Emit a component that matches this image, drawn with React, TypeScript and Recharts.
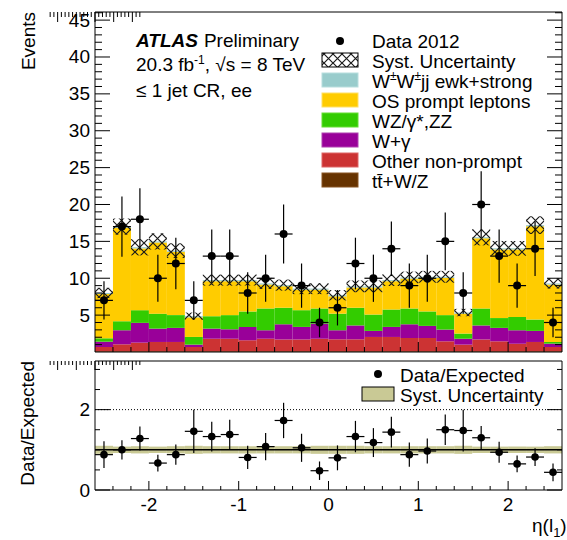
import { Bar, ComposedChart, ErrorBar, ReferenceLine, Scatter, XAxis, YAxis } from "recharts";

// bin centres in eta(l1), bin width 0.2
const binCenters = [
  -2.5, -2.3, -2.1, -1.9, -1.7, -1.5, -1.3, -1.1, -0.9, -0.7, -0.5, -0.3, -0.1,
  0.1, 0.3, 0.5, 0.7, 0.9, 1.1, 1.3, 1.5, 1.7, 1.9, 2.1, 2.3, 2.5,
];
const binHalfWidth = 0.1;

// stacked backgrounds (events per bin), bottom to top
const ttbarWZ = [0.1, 0.1, 0.1, 0.1, 0.1, 0.1, 0.1, 0.1, 0.1, 0.1, 0.1, 0.1, 0.1, 0.1, 0.1, 0.1, 0.1, 0.1, 0.1, 0.1, 0.1, 0.1, 0.1, 0.1, 0.1, 0.1];
const otherNonPrompt = [0.58, 0.94, 1.17, 1.26, 1.26, 0.58, 1.7, 1.7, 1.5, 1.7, 1.6, 1.6, 1.7, 1.62, 1.62, 1.94, 1.94, 1.8, 1.8, 1.35, 0.9, 1.6, 1.35, 1.03, 1.26, 0.58];
const wGamma = [0.72, 1.91, 2.68, 1.81, 1.91, 0.32, 1.37, 1.28, 1.8, 1.15, 2.06, 1.7, 2.05, 1.23, 1.88, 0.82, 1.36, 1.86, 1.64, 1.59, 0.8, 1.9, 1.82, 1.82, 1.5, 0.45];
const wzZZ = [0.46, 1.22, 1.72, 2.03, 1.73, 1.04, 1.68, 1.92, 2.1, 2.95, 2.24, 2.27, 2.05, 2.25, 2.4, 2.22, 2.36, 2.14, 1.96, 1.96, 0.7, 2.3, 1.33, 1.81, 1.54, 0.23];
const osPrompt = [6.0, 12.68, 8.38, 9.65, 8.59, 2.66, 4.75, 4.6, 4.1, 3.25, 2.92, 2.78, 2.55, 2.35, 2.75, 3.67, 3.84, 4.05, 4.55, 5.05, 2.7, 9.51, 9.31, 9.15, 12.65, 7.79];
const wwjj = [0.15, 0.15, 0.15, 0.15, 0.15, 0.15, 0.15, 0.15, 0.15, 0.15, 0.15, 0.15, 0.15, 0.15, 0.15, 0.15, 0.15, 0.15, 0.15, 0.15, 0.15, 0.15, 0.15, 0.15, 0.15, 0.15];
const systErr = [0.7, 1.1, 1.1, 1.1, 1.0, 0.5, 0.75, 0.75, 0.75, 0.75, 0.75, 0.75, 0.75, 0.7, 0.8, 0.8, 0.8, 0.8, 0.8, 0.8, 0.5, 1.1, 1.0, 1.0, 1.2, 0.7];

// data
const dataEvents = [7, 17, 18, 10, 12, 7, 13, 13, 8, 10, 16, 9, 4, 6, 12, 10, 14, 9, 10, 15, 8, 20, 13, 9, 14, 4];
const dataErr = [2.6, 4.1, 4.2, 3.2, 3.5, 2.6, 3.6, 3.6, 2.8, 3.2, 4.0, 3.0, 2.0, 2.4, 3.5, 3.2, 3.7, 3.0, 3.2, 3.9, 2.8, 4.5, 3.6, 3.0, 3.7, 2.0];

// ratio panel
const ratio = [0.88, 1.0, 1.28, 0.67, 0.88, 1.46, 1.33, 1.38, 0.81, 1.08, 1.73, 1.05, 0.48, 0.8, 1.33, 1.18, 1.44, 0.88, 0.97, 1.5, 1.48, 1.3, 0.94, 0.65, 0.82, 0.44];
const ratioErr = [0.33, 0.24, 0.3, 0.21, 0.25, 0.54, 0.37, 0.37, 0.29, 0.34, 0.44, 0.35, 0.23, 0.31, 0.39, 0.36, 0.38, 0.3, 0.31, 0.38, 0.52, 0.29, 0.26, 0.21, 0.22, 0.22];
const ratioSyst = [0.1, 0.08, 0.09, 0.08, 0.09, 0.1, 0.09, 0.09, 0.09, 0.09, 0.09, 0.09, 0.1, 0.1, 0.1, 0.09, 0.09, 0.09, 0.09, 0.09, 0.1, 0.08, 0.08, 0.08, 0.08, 0.09];

// ticks
const etaMajor = [-2, -1, 0, 1, 2];
const etaTicks = [
  -2.4, -2.2, -2, -1.8, -1.6, -1.4, -1.2, -1, -0.8, -0.6, -0.4, -0.2, 0,
  0.2, 0.4, 0.6, 0.8, 1, 1.2, 1.4, 1.6, 1.8, 2, 2.2, 2.4,
];
const eventsMajor = [5, 10, 15, 20, 25, 30, 35, 40, 45];
const eventsTicks = Array.from({ length: 46 }, (_, i) => i + 1);
const ratioMajor = [0, 2];
const ratioTicks = [0, 0.5, 1, 1.5, 2, 2.5, 3];

const FONT = "'Liberation Sans', Arial, Helvetica, sans-serif";

const topRows = binCenters.map((eta, i) => {
  const total = ttbarWZ[i] + otherNonPrompt[i] + wGamma[i] + wzZZ[i] + osPrompt[i] + wwjj[i];
  return {
    bin: i,
    eta,
    ttbar: ttbarWZ[i],
    other: otherNonPrompt[i],
    wgam: wGamma[i],
    wz: wzZZ[i],
    os: osPrompt[i],
    ww: wwjj[i],
    syst: [total - systErr[i], total + systErr[i]],
    data: dataEvents[i],
    ey: dataErr[i],
    ex: binHalfWidth,
  };
});

const ratioRows = binCenters.map((eta, i) => ({
  bin: i,
  eta,
  ratio: ratio[i],
  ey: ratioErr[i],
  ex: binHalfWidth,
  band: [1 - ratioSyst[i], 1 + ratioSyst[i]],
}));

type Side = "left" | "right" | "top" | "bottom";

const fmt = (v: number) => String(Math.round(v));

function frameTick(side: Side, majors: number[], majorLen: number, minorLen: number, labels: boolean) {
  return (props: any) => {
    const { x, y, payload } = props;
    const v = Number(payload.value);
    const isMajor = majors.some((m) => Math.abs(m - v) < 1e-6);
    const len = isMajor ? majorLen : minorLen;
    const dx = side === "left" ? len : side === "right" ? -len : 0;
    const dy = side === "bottom" ? -len : side === "top" ? len : 0;
    return (
      <g>
        <line x1={x} y1={y} x2={x + dx} y2={y + dy} stroke="#000" strokeWidth={1} />
        {labels && isMajor && side === "left" && (
          <text x={x - 5} y={y} textAnchor="end" dominantBaseline="central" fontSize={19} fontFamily={FONT} fill="#000">
            {fmt(v)}
          </text>
        )}
        {labels && isMajor && side === "bottom" && (
          <text x={x} y={y + 14} textAnchor="middle" dominantBaseline="central" fontSize={19} fontFamily={FONT} fill="#000">
            {fmt(v)}
          </text>
        )}
      </g>
    );
  };
}

const dot = (r: number) => (props: any) => <circle cx={props.cx} cy={props.cy} r={r} fill="#000" />;

const W = 567;

const axisCommon = {
  allowDataOverflow: true,
  interval: 0 as const,
  tickSize: 0,
  tickMargin: 0,
  stroke: "#000",
  axisLine: { stroke: "#000", strokeWidth: 1 },
};

function TopPanel() {
  return (
    <ComposedChart
      width={W}
      height={360}
      data={topRows}
      margin={{ top: 11, right: 4, bottom: 7, left: 94 }}
      barCategoryGap={0}
      barGap={0}
    >
      <XAxis
        {...axisCommon}
        xAxisId="num"
        dataKey="eta"
        type="number"
        domain={[-2.6, 2.6]}
        ticks={etaTicks}
        height={1}
        tick={frameTick("bottom", etaMajor, 10, 5, false)}
      />
      <XAxis
        {...axisCommon}
        xAxisId="top"
        orientation="top"
        type="number"
        domain={[-2.6, 2.6]}
        ticks={etaTicks}
        height={1}
        tick={frameTick("top", etaMajor, 10, 5, false)}
      />
      <XAxis xAxisId="cat" dataKey="bin" type="category" height={0} hide />
      <XAxis xAxisId="cat2" dataKey="bin" type="category" height={0} hide />
      <YAxis
        {...axisCommon}
        yAxisId="l"
        dataKey="data"
        type="number"
        domain={[0, 46.1]}
        ticks={eventsTicks}
        width={1}
        tick={frameTick("left", eventsMajor, 15, 7, true)}
      />
      <YAxis
        {...axisCommon}
        yAxisId="r"
        orientation="right"
        type="number"
        domain={[0, 46.1]}
        ticks={eventsTicks}
        width={1}
        tick={frameTick("right", eventsMajor, 15, 7, false)}
      />
      <Bar xAxisId="cat" yAxisId="l" dataKey="ttbar" stackId="mc" fill="#663300" isAnimationActive={false} />
      <Bar xAxisId="cat" yAxisId="l" dataKey="other" stackId="mc" fill="#cc3333" isAnimationActive={false} />
      <Bar xAxisId="cat" yAxisId="l" dataKey="wgam" stackId="mc" fill="#990099" isAnimationActive={false} />
      <Bar xAxisId="cat" yAxisId="l" dataKey="wz" stackId="mc" fill="#33cc00" isAnimationActive={false} />
      <Bar xAxisId="cat" yAxisId="l" dataKey="os" stackId="mc" fill="#ffcc00" isAnimationActive={false} />
      <Bar xAxisId="cat" yAxisId="l" dataKey="ww" stackId="mc" fill="#99cccc" isAnimationActive={false} />
      <Bar xAxisId="cat2" yAxisId="l" dataKey="syst" fill="url(#xhatch)" isAnimationActive={false} />
      <Scatter xAxisId="num" yAxisId="l" data={topRows} dataKey="data" shape={dot(4)} isAnimationActive={false}>
        <ErrorBar dataKey="ey" direction="y" width={0} stroke="#000" strokeWidth={1.2} />
        <ErrorBar dataKey="ex" direction="x" width={0} stroke="#000" strokeWidth={1.2} />
      </Scatter>
    </ComposedChart>
  );
}

function RatioPanel() {
  return (
    <ComposedChart
      width={W}
      height={185}
      data={ratioRows}
      margin={{ top: 5, right: 4, bottom: 49, left: 94 }}
      barCategoryGap={0}
      barGap={0}
    >
      <XAxis
        {...axisCommon}
        xAxisId="num"
        dataKey="eta"
        type="number"
        domain={[-2.6, 2.6]}
        ticks={etaTicks}
        height={1}
        tick={frameTick("bottom", etaMajor, 9, 4, true)}
      />
      <XAxis
        {...axisCommon}
        xAxisId="top"
        orientation="top"
        type="number"
        domain={[-2.6, 2.6]}
        ticks={etaTicks}
        height={1}
        tick={frameTick("top", etaMajor, 9, 4, false)}
      />
      <XAxis xAxisId="cat" dataKey="bin" type="category" height={0} hide />
      <YAxis
        {...axisCommon}
        yAxisId="l"
        dataKey="ratio"
        type="number"
        domain={[0, 3.21]}
        ticks={ratioTicks}
        width={1}
        tick={frameTick("left", ratioMajor, 15, 5, true)}
      />
      <YAxis
        {...axisCommon}
        yAxisId="r"
        orientation="right"
        type="number"
        domain={[0, 3.21]}
        ticks={ratioTicks}
        width={1}
        tick={frameTick("right", ratioMajor, 15, 5, false)}
      />
      <Bar xAxisId="cat" yAxisId="l" dataKey="band" fill="#c9c995" isAnimationActive={false} />
      <ReferenceLine xAxisId="num" yAxisId="l" y={2} stroke="#000" strokeDasharray="1 2" strokeWidth={1} />
      <ReferenceLine xAxisId="num" yAxisId="l" y={1} stroke="#000" strokeWidth={1.5} />
      <Scatter xAxisId="num" yAxisId="l" data={ratioRows} dataKey="ratio" shape={dot(3.8)} isAnimationActive={false}>
        <ErrorBar dataKey="ey" direction="y" width={0} stroke="#000" strokeWidth={1.2} />
        <ErrorBar dataKey="ex" direction="x" width={0} stroke="#000" strokeWidth={1.2} />
      </Scatter>
    </ComposedChart>
  );
}

const legendRows = [
  { label: "Syst. Uncertainty", fill: "url(#xhatch)", border: "#000" },
  { label: "W±W±jj ewk+strong", fill: "#99cccc", border: "#b8dede" },
  { label: "OS prompt leptons", fill: "#ffcc00", border: "#ffe066" },
  { label: "WZ/γ*,ZZ", fill: "#33cc00", border: "#66dd33" },
  { label: "W+γ", fill: "#990099", border: "#b040b0" },
  { label: "Other non-prompt", fill: "#cc3333", border: "#dd6666" },
  { label: "tt̄+W/Z", fill: "#663300", border: "#885522" },
];

function LegendLabel({ label }: { label: string }) {
  if (label.startsWith("W±W±")) {
    return (
      <>
        W<tspan dy={-8} fontSize={12}>±</tspan>
        <tspan dy={8}>W</tspan>
        <tspan dy={-8} fontSize={12}>±</tspan>
        <tspan dy={8}>jj ewk+strong</tspan>
      </>
    );
  }
  return <>{label}</>;
}

function Overlay() {
  return (
    <svg width={W} height={540} style={{ position: "absolute", left: 0, top: 0, pointerEvents: "none" }} fontFamily={FONT}>
      <defs>
        <pattern id="xhatch" patternUnits="userSpaceOnUse" width={9} height={9}>
          <path d="M0,0 L9,9 M9,0 L0,9" stroke="#1a1a1a" strokeWidth={1.2} />
        </pattern>
      </defs>
      {/* axis titles */}
      <text x={28} y={12} transform="rotate(-90 28 12)" textAnchor="end" dominantBaseline="central" fontSize={19}>
        Events
      </text>
      <text x={27} y={361} transform="rotate(-90 27 361)" textAnchor="end" dominantBaseline="central" fontSize={19}>
        Data/Expected
      </text>
      <text x={532} y={532} fontSize={19}>
        η(l<tspan dy={5} fontSize={13}>1</tspan>
        <tspan dy={-5}>)</tspan>
      </text>
      {/* ATLAS label */}
      <text x={136} y={47} fontSize={19}>
        <tspan fontWeight="bold" fontStyle="italic">ATLAS</tspan>
        <tspan dx={6}>Preliminary</tspan>
      </text>
      <text x={136} y={71} fontSize={19}>
        20.3 fb<tspan dy={-7} fontSize={12}>-1</tspan>
        <tspan dy={7}>, √s = 8 TeV</tspan>
      </text>
      <text x={136} y={97} fontSize={19}>
        ≤ 1 jet CR, ee
      </text>
      {/* main legend */}
      <circle cx={340} cy={41} r={4} fill="#000" />
      <text x={372} y={48} fontSize={19}>
        Data 2012
      </text>
      {legendRows.map((r, i) => {
        const base = 68 + i * 20;
        return (
          <g key={r.label}>
            <rect x={322} y={base - 15} width={36} height={14} fill={r.fill} stroke={r.border} strokeWidth={1} />
            <text x={372} y={base} fontSize={19}>
              <LegendLabel label={r.label} />
            </text>
          </g>
        );
      })}
      {/* ratio legend */}
      <circle cx={378} cy={374} r={4} fill="#000" />
      <text x={400} y={382} fontSize={19}>
        Data/Expected
      </text>
      <rect x={362} y={387} width={32} height={14} fill="#c9c995" stroke="#000" strokeWidth={1} />
      <text x={400} y={402} fontSize={19}>
        Syst. Uncertainty
      </text>
    </svg>
  );
}

export default function App() {
  return (
    <div style={{ position: "absolute", left: 0, top: 0, width: W, height: 540, background: "#fff", fontFamily: FONT }}>
      <div style={{ position: "absolute", left: 0, top: 0 }}>
        <TopPanel />
      </div>
      <div style={{ position: "absolute", left: 0, top: 355 }}>
        <RatioPanel />
      </div>
      <Overlay />
    </div>
  );
}
